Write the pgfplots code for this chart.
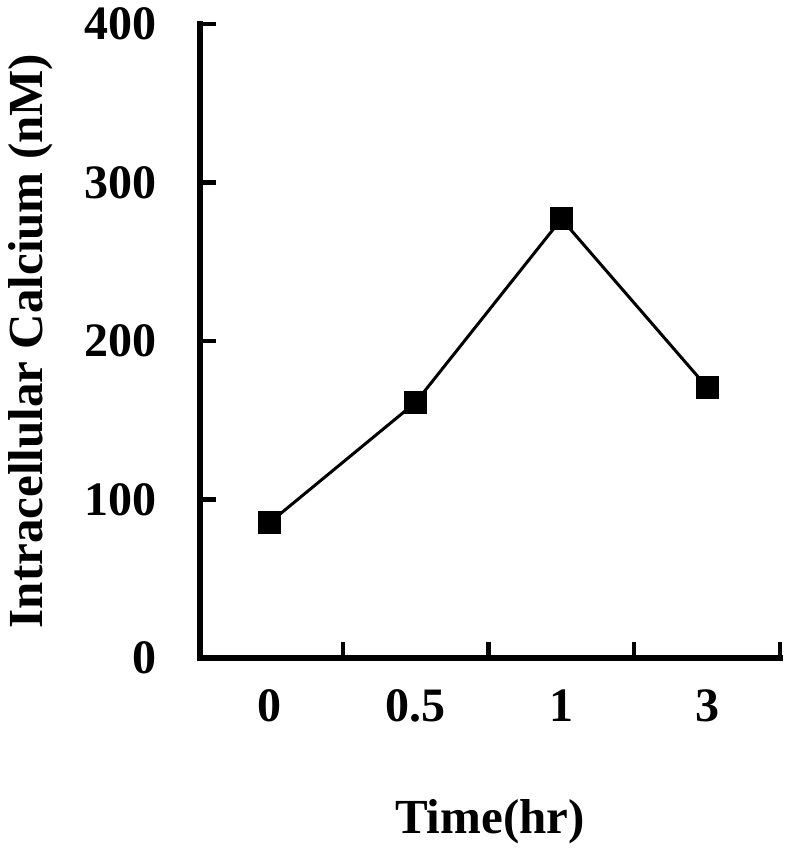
\documentclass[border=0pt]{standalone}
\usepackage{fontspec}
\setmainfont{Liberation Serif}
\usepackage{pgfplots}
\pgfplotsset{compat=1.18}
\begin{document}
\begin{tikzpicture}
\begin{axis}[scale only axis,width=290pt,height=317pt,
  xmin=-0.48,xmax=3.5,ymin=0,ymax=400,
  axis x line*=bottom,axis y line*=left,
  separate axis lines,
  axis line style={line width=2.8pt,-,line cap=rect},
  xtick={0.5,1.5,2.5,3.5},xticklabels={},
  extra x ticks={0,1,2,3},extra x tick labels={0,0.5,1,3},
  extra x tick style={major tick length=0pt},
  ytick={0,100,200,300,400},
  tick style={line width=2.2pt,black},
  major tick length=8pt,
  tick align=inside,
  /pgf/number format/assume math mode=true,
  tick label style={font=\fontsize{24}{26}\selectfont\bfseries},
  xticklabel style={yshift=-12.5pt},
  yticklabel style={xshift=-18pt},
  xlabel={Time(hr)},ylabel={Intracellular Calcium (nM)},
  label style={font=\fontsize{24.5}{27}\selectfont\bfseries},
  xlabel style={yshift=-31.5pt},
  ylabel style={yshift=9pt},
  clip=false]
\addplot[black,line width=1.5pt,mark=square*,mark size=5pt] coordinates
  {(0,85.6)(1,161.3)(2,277)(3,170.8)};
\coordinate (ll) at (rel axis cs:0,0);
\coordinate (ur) at (rel axis cs:1,1);
\end{axis}
\pgfresetboundingbox
\path[use as bounding box] ([xshift=-100pt,yshift=-95.5pt]ll) rectangle ([xshift=8pt,yshift=12pt]ur);
\end{tikzpicture}
\end{document}
